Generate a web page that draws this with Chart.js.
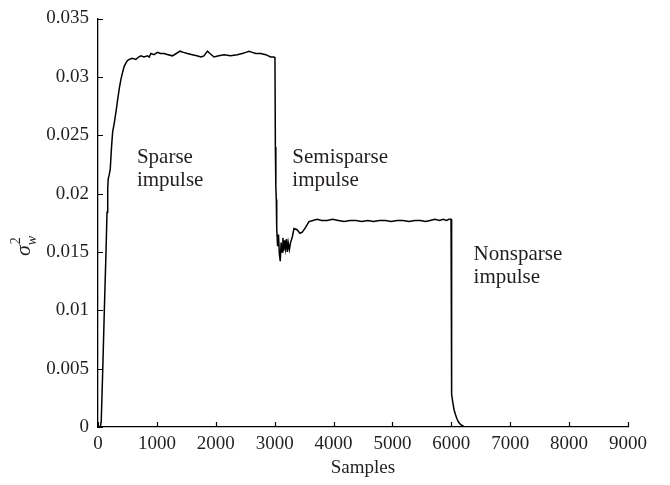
<!DOCTYPE html>
<html>
<head>
<meta charset="utf-8">
<script src="https://cdn.jsdelivr.net/npm/chart.js@4/dist/chart.umd.min.js"></script>
<style>
  html, body { margin: 0; padding: 0; background: #fff; }
  #chart { display: block; }
</style>
</head>
<body>
<canvas id="chart" width="670" height="485"></canvas>
<script>
// noise variance estimate over the run
const samples = [
  0, 40, 55, 80, 107, 136, 153, 165, 175, 190, 208, 230, 249, 275, 305, 335, 361, 390, 418, 445,
  475, 500, 531, 580, 644, 690, 729, 780, 841, 870, 898, 950, 1010, 1060, 1122, 1190, 1264, 1330,
  1393, 1450, 1519, 1600, 1680, 1746, 1800, 1858, 1900, 1971, 2050, 2141, 2250, 2366, 2450, 2510,
  2564, 2620, 2680, 2762, 2850, 2932, 2990, 3005, 3012, 3018, 3022, 3028, 3035, 3050, 3065, 3080,
  3095, 3110, 3125, 3140, 3155, 3170, 3185, 3200, 3215, 3230, 3250, 3270, 3300, 3328, 3380, 3430,
  3469, 3525, 3582, 3650, 3720, 3800, 3892, 3980, 4080, 4180, 4280, 4380, 4480, 4580, 4680, 4780,
  4880, 4980, 5080, 5180, 5280, 5380, 5480, 5560, 5640, 5720, 5800, 5860, 5920, 5960, 5995, 6005,
  6022, 6045, 6068, 6095, 6124, 6160, 6209, 6260, 9000
];
const variance = [
  0, 0, 0.0005, 0.0048, 0.0099, 0.015, 0.0184, 0.0205, 0.0213, 0.0216, 0.0221, 0.024, 0.0253, 0.026,
  0.027, 0.0281, 0.029, 0.0298, 0.0304, 0.0309, 0.0312, 0.0314, 0.0315, 0.0316, 0.0315, 0.0317,
  0.0318, 0.0317, 0.0318, 0.0317, 0.032, 0.0319, 0.0321, 0.032, 0.032, 0.0319, 0.0318, 0.032,
  0.0322, 0.0321, 0.032, 0.0319, 0.0318, 0.0317, 0.0318, 0.0322, 0.032, 0.0317, 0.0318, 0.0319,
  0.0318, 0.0319, 0.032, 0.0321, 0.0322, 0.0321, 0.032, 0.032, 0.0319, 0.0317, 0.0317, 0.0316,
  0.024, 0.0218, 0.0205, 0.0195, 0.017, 0.0155, 0.0165, 0.0148, 0.0142, 0.0158, 0.015, 0.0162,
  0.0151, 0.016, 0.0153, 0.0161, 0.015, 0.0158, 0.0152, 0.0158, 0.0163, 0.017, 0.0169, 0.0166,
  0.0167, 0.0171, 0.0176, 0.0177, 0.0178, 0.0177, 0.0177, 0.0178, 0.0177, 0.0176, 0.0177, 0.0177,
  0.0176, 0.0177, 0.0176, 0.0177, 0.0177, 0.0176, 0.0177, 0.0177, 0.0176, 0.0177, 0.0177, 0.0176,
  0.0177, 0.0178, 0.0177, 0.0178, 0.0177, 0.0178, 0.0178, 0.0028, 0.0022, 0.0015, 0.0011, 0.0007,
  0.0004, 0.0002, 0.00005, 0, 0
];
const xTicks = [0, 1000, 2000, 3000, 4000, 5000, 6000, 7000, 8000, 9000];
const yTickLabels = ['0', '0.005', '0.01', '0.015', '0.02', '0.025', '0.03', '0.035'];

// region labels, anchored in data units (first line)
const regionLabels = [
  { lines: ['Sparse', 'impulse'], x: 661, y: 0.0231 },
  { lines: ['Semisparse', 'impulse'], x: 3300, y: 0.0231 },
  { lines: ['Nonsparse', 'impulse'], x: 6378, y: 0.0148 }
];

const SERIF = '"Liberation Serif", "DejaVu Serif", serif';
const TEXT = '#231f20';

const innerTicks = {
  id: 'innerTicks',
  afterDraw(chart) {
    const { ctx, scales: { x, y } } = chart;
    ctx.save();
    ctx.strokeStyle = '#000';
    ctx.lineWidth = 1.2;
    ctx.beginPath();
    x.ticks.forEach((t) => {
      const px = Math.round(x.getPixelForValue(t.value)) + 0.5;
      ctx.moveTo(px, y.bottom);
      ctx.lineTo(px, y.bottom - 5);
    });
    y.ticks.forEach((t) => {
      const py = Math.round(y.getPixelForValue(t.value)) + 0.5;
      ctx.moveTo(x.left, py);
      ctx.lineTo(x.left + 5, py);
    });
    ctx.stroke();
    ctx.restore();
  }
};

const regionText = {
  id: 'regionText',
  afterDraw(chart) {
    const { ctx, scales: { x, y } } = chart;
    ctx.save();
    ctx.fillStyle = TEXT;
    ctx.font = '21px ' + SERIF;
    ctx.textAlign = 'left';
    ctx.textBaseline = 'middle';
    regionLabels.forEach((lbl) => {
      const px = x.getPixelForValue(lbl.x);
      const py = y.getPixelForValue(lbl.y);
      lbl.lines.forEach((line, i) => ctx.fillText(line, px, py + i * 23));
    });
    ctx.restore();
  }
};

// y title: sigma with stacked 2 / w, rotated
const sigmaTitle = {
  id: 'sigmaTitle',
  afterDraw(chart) {
    const { ctx } = chart;
    ctx.save();
    ctx.translate(24, 242);
    ctx.rotate(-Math.PI / 2);
    ctx.fillStyle = TEXT;
    ctx.textBaseline = 'alphabetic';
    ctx.textAlign = 'left';
    ctx.font = 'italic 22px ' + SERIF;
    ctx.fillText('σ', -14, 6);
    const w = ctx.measureText('σ').width;
    ctx.font = '14px ' + SERIF;
    ctx.fillText('2', -14 + w + 1, -4);
    ctx.font = 'italic 14px ' + SERIF;
    ctx.fillText('w', -14 + w, 12);
    ctx.restore();
  }
};

new Chart(document.getElementById('chart'), {
  type: 'scatter',
  data: {
    datasets: [{
      data: samples.map((s, i) => ({ x: s, y: variance[i] })),
      showLine: true,
      borderColor: '#000',
      borderWidth: 1.5,
      pointRadius: 0,
      tension: 0,
      fill: false
    }]
  },
  options: {
    responsive: false,
    animation: false,
    layout: { padding: { top: 16, right: 42, left: 0, bottom: 0 } },
    plugins: { legend: { display: false }, tooltip: { enabled: false } },
    scales: {
      x: {
        type: 'linear',
        min: 0,
        max: 9000,
        afterBuildTicks: (scale) => { scale.ticks = xTicks.map((v) => ({ value: v })); },
        afterFit: (scale) => { scale.height = 58; },
        grid: { display: false, drawTicks: false },
        border: { display: true, color: '#000', width: 1.3 },
        ticks: {
          padding: 6,
          color: TEXT,
          font: { family: SERIF, size: 19 },
          maxRotation: 0,
          callback: (v) => String(v)
        },
        title: {
          display: true,
          text: 'Samples',
          color: TEXT,
          font: { family: SERIF, size: 19 },
          padding: { top: 2, bottom: 6 }
        }
      },
      y: {
        min: 0,
        max: 0.035,
        ticks: {
          stepSize: 0.005,
          padding: 9,
          color: TEXT,
          font: { family: SERIF, size: 19, lineHeight: 1 },
          callback: (v, i) => yTickLabels[i]
        },
        afterFit: (scale) => { scale.width = 98; },
        grid: { display: false, drawTicks: false },
        border: { display: true, color: '#000', width: 1.3 }
      }
    }
  },
  plugins: [innerTicks, regionText, sigmaTitle]
});
</script>
</body>
</html>
